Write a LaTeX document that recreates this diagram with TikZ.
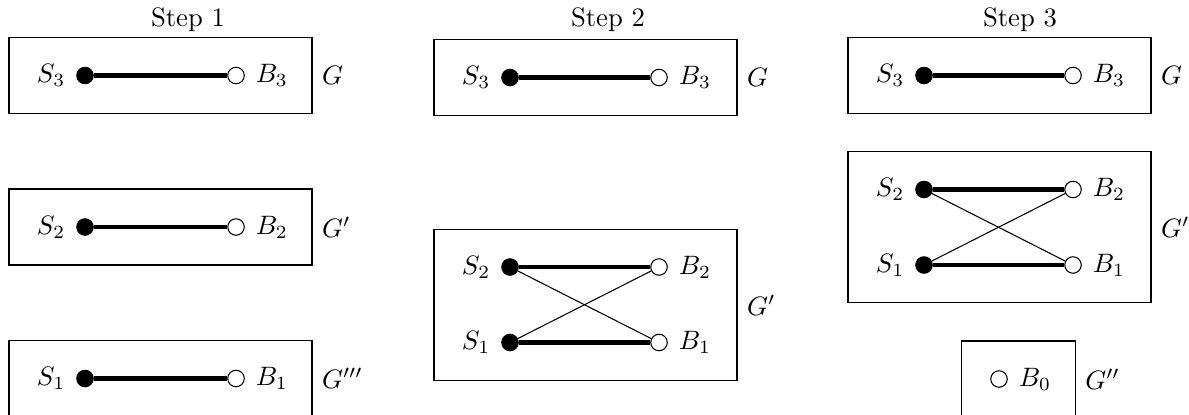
\documentclass[tikz,border=0pt]{standalone}
\begin{document}
\begin{tikzpicture}[x=0.0132cm,y=-0.0132cm,
  sdot/.style={circle,fill=black,draw=black,inner sep=0pt,minimum size=6.2pt},
  bdot/.style={circle,fill=white,draw=black,inner sep=0pt,minimum size=6.2pt},
  sl/.style={label={[label distance=0.6pt]left:#1}},
  bl/.style={label={[label distance=0.6pt]right:#1}},
  matchedge/.style={line width=1.7pt},
  thinedge/.style={line width=0.4pt},
  frame/.style={draw,line width=0.5pt,minimum width=4cm,minimum height=1cm,inner sep=0pt},
  bigframe/.style={frame,minimum height=2cm},
  smallframe/.style={frame,minimum width=1.5cm},
  glabel/.style={anchor=west}]
\useasboundingbox (0,0) rectangle (1189,414);

% ---------- Step 1 ----------
\node (t1) at (188,20) {Step 1};
\node[frame] (f1a) at (160.5,75.5) {};
\node[glabel] (g1a) at (f1a.east) {$G$};
\node[sdot,sl={$S_3$}] (s13) at (85,75.5) {};
\node[bdot,bl={$B_3$}] (b13) at (236,75.5) {};
\draw[matchedge] (s13) -- (b13);

\node[frame] (f1b) at (160.5,227) {};
\node[glabel] (g1b) at (f1b.east) {$G'$};
\node[sdot,sl={$S_2$}] (s12) at (85,227) {};
\node[bdot,bl={$B_2$}] (b12) at (236,227) {};
\draw[matchedge] (s12) -- (b12);

\node[frame] (f1c) at (160.5,378.5) {};
\node[glabel] (g1c) at (f1c.east) {$G'''$};
\node[sdot,sl={$S_1$}] (s11) at (85,378.5) {};
\node[bdot,bl={$B_1$}] (b11) at (236,378.5) {};
\draw[matchedge] (s11) -- (b11);

% ---------- Step 2 ----------
\node (t2) at (608,20) {Step 2};
\node[frame] (f2a) at (585.5,77.5) {};
\node[glabel] (g2a) at (f2a.east) {$G$};
\node[sdot,sl={$S_3$}] (s23) at (510,77.5) {};
\node[bdot,bl={$B_3$}] (b23) at (659,77.5) {};
\draw[matchedge] (s23) -- (b23);

\node[bigframe] (f2b) at (585.5,305) {};
\node[glabel] (g2b) at (f2b.east) {$G'$};
\node[sdot,sl={$S_2$}] (s22) at (510,267) {};
\node[sdot,sl={$S_1$}] (s21) at (510,342.5) {};
\node[bdot,bl={$B_2$}] (b22) at (659,267) {};
\node[bdot,bl={$B_1$}] (b21) at (659,342.5) {};
\draw[matchedge] (s22) -- (b22);
\draw[matchedge] (s21) -- (b21);
\draw[thinedge] (s22) -- (b21);
\draw[thinedge] (s21) -- (b22);

% ---------- Step 3 ----------
\node (t3) at (1020,20) {Step 3};
\node[frame] (f3a) at (999.5,75.5) {};
\node[glabel] (g3a) at (f3a.east) {$G$};
\node[sdot,sl={$S_3$}] (s33) at (924,75.5) {};
\node[bdot,bl={$B_3$}] (b33) at (1073,75.5) {};
\draw[matchedge] (s33) -- (b33);

\node[bigframe] (f3b) at (999.5,227) {};
\node[glabel] (g3b) at (f3b.east) {$G'$};
\node[sdot,sl={$S_2$}] (s32) at (924,189.5) {};
\node[sdot,sl={$S_1$}] (s31) at (924,265) {};
\node[bdot,bl={$B_2$}] (b32) at (1073,189.5) {};
\node[bdot,bl={$B_1$}] (b31) at (1073,265) {};
\draw[matchedge] (s32) -- (b32);
\draw[matchedge] (s31) -- (b31);
\draw[thinedge] (s32) -- (b31);
\draw[thinedge] (s31) -- (b32);

\node[smallframe] (f3c) at (1018.5,379) {};
\node[glabel] (g3c) at (f3c.east) {$G''$};
\node[bdot,bl={$B_0$}] (b30) at (999,379) {};
\end{tikzpicture}
\end{document}
